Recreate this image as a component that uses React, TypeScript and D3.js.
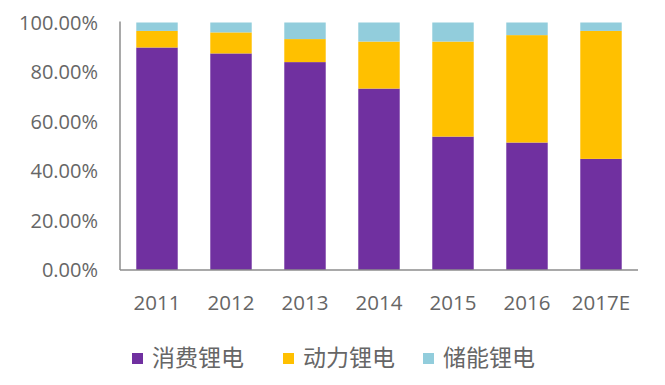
import React from "react";
import * as d3 from "d3";

const categories = ["2011", "2012", "2013", "2014", "2015", "2016", "2017E"];
const consumer = [89.9, 87.5, 84.0, 73.3, 53.9, 51.5, 44.9];
const power = [6.7, 8.5, 9.3, 19.0, 38.4, 43.4, 51.7];
const storage = [3.4, 4.0, 6.7, 7.7, 7.7, 5.1, 3.4];
const seriesNames = ["消费锂电", "动力锂电", "储能锂电"];
const yTicks = [0, 20, 40, 60, 80, 100];

const colors = ["#7030A0", "#FFC000", "#92CDDC"];

export default function App() {
  const W = 665, H = 385;
  const x0 = 120, x1 = 638, yTop = 22.5, yBot = 270;
  const x = d3.scaleBand().domain(categories).range([x0, x1]).paddingInner(0.44).paddingOuter(0.22);
  const y = d3.scaleLinear().domain([0, 100]).range([yBot, yTop]);
  const rows = categories.map((c, i) => ({ cat: c, s0: consumer[i], s1: power[i], s2: storage[i] }));
  const stack = d3.stack<any>().keys(["s0", "s1", "s2"])(rows);
  const font = "'Open Sans', 'Noto Sans CJK SC', sans-serif";
  const legendX = [132, 283, 423];
  return (
    <svg width={W} height={H} style={{ position: "absolute", left: 0, top: 0, background: "#fff" }}>
      {stack.map((layer, li) =>
        layer.map((d, i) => (
          <rect key={li + "-" + i} x={x(categories[i])} width={x.bandwidth()} y={y(d[1])} height={y(d[0]) - y(d[1])} fill={colors[li]} />
        ))
      )}
      <line x1={x0} x2={x0} y1={yTop - 1} y2={yBot} stroke="#8c8c8c" strokeWidth={1.5} />
      <line x1={x0} x2={x1} y1={yBot} y2={yBot} stroke="#8c8c8c" strokeWidth={1.5} />
      {yTicks.map((t) => (
        <text key={t} x={98} y={y(t)} dy="0.36em" textAnchor="end" fontFamily={font} fontSize={20} fill="#666">
          {t.toFixed(2) + "%"}
        </text>
      ))}
      {categories.map((c) => (
        <text key={c} x={(x(c) as number) + x.bandwidth() / 2} y={303} dy="0.36em" textAnchor="middle" fontFamily={font} fontSize={20.5} fill="#666">
          {c}
        </text>
      ))}
      {seriesNames.map((n, i) => (
        <g key={n}>
          <rect x={legendX[i]} y={353} width={11} height={11} fill={colors[i]} />
          <text x={legendX[i] + 20} y={358} dy="0.36em" fontFamily="'Noto Sans CJK SC', sans-serif" fontSize={23} fill="#666">
            {n}
          </text>
        </g>
      ))}
    </svg>
  );
}
